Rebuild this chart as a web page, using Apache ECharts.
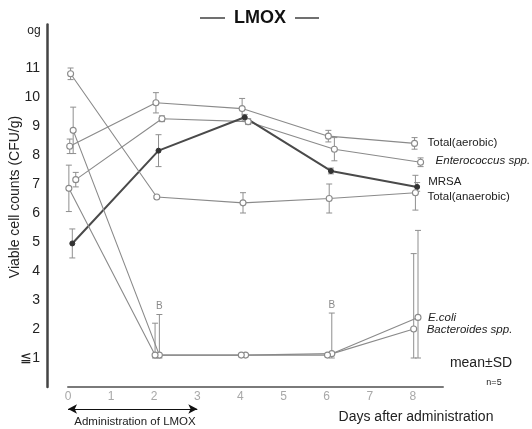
<!DOCTYPE html>
<html>
<head>
<meta charset="utf-8">
<script src="https://cdn.jsdelivr.net/npm/echarts@6/dist/echarts.min.js"></script>
<style>
  html, body { margin: 0; padding: 0; background: #fff; }
  #chart { width: 532px; height: 429px; }
</style>
</head>
<body>
<div id="chart"></div>
<script>
// Sampling days after the start of LMOX administration
const days = [0, 2, 4, 6, 8];

// Viable cell counts, log CFU/g (mean and SD, n=5)
const totalAerobic     = [8.3, 9.8, 9.6, 8.65, 8.4];
const totalAerobicSD   = [0.25, 0.35, 0.35, 0.2, 0.2];
const enterococcus     = [7.15, 9.25, 9.15, 8.2, 7.75];
const enterococcusSD   = [0.25, 0.1, 0.1, 0.4, 0.15];
const mrsa             = [4.95, 8.15, 9.3, 7.45, 6.9];
const mrsaSD           = [0.5, 0.55, 0.1, 0.1, 0.15];
const totalAnaerobic   = [10.8, 6.55, 6.35, 6.5, 6.7];
const totalAnaerobicSD = [0.2, 0.05, 0.35, 0.5, 0.6];
const eColi            = [8.85, 1.1, 1.1, 1.15, 2.4];
const eColiSD          = [0.8, 1.4, 0, 1.4, 3.0];
const bacteroides      = [6.85, 1.1, 1.1, 1.1, 2.0];
const bacteroidesSD    = [0.8, 1.1, 0, 0, 2.6];

// Marks printed above some E. coli error bars
const eColiNotes = ['', 'B', '', 'B', ''];

// Axis ticks
const xTicks = [0, 1, 2, 3, 4, 5, 6, 7, 8];
const yTicks = [1, 2, 3, 4, 5, 6, 7, 8, 9, 10, 11];
const yTickLabels = ['≦1', '2', '3', '4', '5', '6', '7', '8', '9', '10', '11'];

// Detection limit: error bars are not drawn below it
const detectionLimit = 1;

// Administration period (days)
const dosingPeriod = [0, 3];

const FONT = 'Liberation Sans, Arial, sans-serif';

const seriesSpec = [
  { name: 'Total(aerobic)',    mean: totalAerobic,   sd: totalAerobicSD,   dodge: 0.04, italic: false, labelOffset: [9, -1] },
  { name: 'Enterococcus spp.', mean: enterococcus,   sd: enterococcusSD,   dodge: 0.18, italic: true,  labelOffset: [11, -1] },
  { name: 'MRSA',              mean: mrsa,           sd: mrsaSD,           dodge: 0.1,  italic: false, labelOffset: [7, -5] },
  { name: 'Total(anaerobic)',  mean: totalAnaerobic, sd: totalAnaerobicSD, dodge: 0.06, italic: false, labelOffset: [8, 4] },
  { name: 'E.coli',            mean: eColi,          sd: eColiSD,          dodge: 0.12, italic: true,  labelOffset: [6, 0], notes: eColiNotes },
  { name: 'Bacteroides spp.',  mean: bacteroides,    sd: bacteroidesSD,    dodge: 0.02, italic: true,  labelOffset: [9, 1] }
];
seriesSpec[2].dark = true;

function errorBarRenderer(notes) {
  return function (params, api) {
    const x = api.value(0);
    const lo = api.value(1);
    const hi = api.value(2);
    if (hi - lo < 1e-9) return null;
    const top = api.coord([x, hi]);
    const bot = api.coord([x, lo]);
    const cap = 3;
    const style = { stroke: '#8f8f8f', lineWidth: 1 };
    const children = [
      { type: 'line', shape: { x1: top[0], y1: top[1], x2: bot[0], y2: bot[1] }, style },
      { type: 'line', shape: { x1: top[0] - cap, y1: top[1], x2: top[0] + cap, y2: top[1] }, style },
      { type: 'line', shape: { x1: bot[0] - cap, y1: bot[1], x2: bot[0] + cap, y2: bot[1] }, style }
    ];
    const note = notes && notes[params.dataIndex];
    if (note) {
      children.push({
        type: 'text', x: top[0], y: top[1] - 3,
        style: { text: note, textAlign: 'center', textVerticalAlign: 'bottom', font: '10px ' + FONT, fill: '#8a8a8a' }
      });
    }
    return { type: 'group', children };
  };
}

const series = [];
seriesSpec.forEach(function (s) {
  const pts = days.map((d, i) => [d + s.dodge, s.mean[i]]);
  const bars = days.map((d, i) => [
    d + s.dodge,
    Math.max(s.mean[i] - s.sd[i], detectionLimit),
    s.mean[i] + s.sd[i]
  ]);
  series.push({
    type: 'custom',
    name: s.name + ' SD',
    xAxisIndex: 0, yAxisIndex: 0,
    renderItem: errorBarRenderer(s.notes),
    encode: { x: 0, y: [1, 2] },
    data: bars,
    z: 1,
    silent: true
  });
  series.push({
    type: 'line',
    name: s.name,
    xAxisIndex: 0, yAxisIndex: 0,
    data: pts,
    clip: false,
    z: 3,
    symbol: 'circle',
    symbolSize: s.dark ? 5 : 6,
    lineStyle: { color: s.dark ? '#4a4a4a' : '#8a8a8a', width: s.dark ? 2 : 1.1 },
    itemStyle: s.dark
      ? { color: '#333', borderColor: '#333', borderWidth: 1 }
      : { color: '#fff', borderColor: '#8a8a8a', borderWidth: 1.1 },
    endLabel: {
      show: true,
      formatter: s.name,
      offset: s.labelOffset,
      distance: 4,
      color: '#222',
      fontFamily: FONT,
      fontSize: 11.5,
      fontStyle: s.italic ? 'italic' : 'normal'
    },
    animation: false
  });
});

// Double-headed arrow spanning the administration period
series.push({
  type: 'line',
  name: 'dosing',
  xAxisIndex: 1, yAxisIndex: 1,
  data: [],
  markLine: {
    silent: true,
    symbol: ['arrow', 'arrow'],
    symbolSize: [7, 9],
    label: { show: false },
    lineStyle: { color: '#111', width: 1.2, type: 'solid' },
    data: [[{ coord: [dosingPeriod[0], 0] }, { coord: [dosingPeriod[1], 0] }]]
  }
});

const chart = echarts.init(document.getElementById('chart'), null, { renderer: 'canvas' });
chart.setOption({
  animation: false,
  backgroundColor: '#fff',
  textStyle: { fontFamily: FONT },
  grid: [
    { left: 68, right: 89, top: 24.5, bottom: 42, containLabel: false },
    { left: 68, right: 89, top: 402, height: 14, containLabel: false }
  ],
  xAxis: [
    {
      type: 'value', gridIndex: 0, min: 0, max: 8.7, interval: 1,
      axisLine: { show: true, onZero: false, lineStyle: { color: '#7a7a7a', width: 2 } },
      axisTick: { show: false },
      splitLine: { show: false },
      axisLabel: {
        margin: 4, color: '#a8a8a8', fontSize: 12, fontFamily: FONT,
        showMaxLabel: false,
        formatter: v => (xTicks.indexOf(v) >= 0 ? String(v) : '')
      }
    },
    { type: 'value', gridIndex: 1, min: 0, max: 8.7, show: false }
  ],
  yAxis: [
    {
      type: 'value', gridIndex: 0, min: 0, max: 12.5, interval: 1, offset: 21,
      axisLine: { show: true, onZero: false, lineStyle: { color: '#444', width: 2.5 } },
      axisTick: { show: false },
      splitLine: { show: false },
      axisLabel: {
        margin: 7, color: '#222', fontSize: 14, fontFamily: 'Liberation Sans Narrow, ' + FONT,
        showMaxLabel: false,
        formatter: function (v) {
          const i = yTicks.indexOf(v);
          return i >= 0 ? yTickLabels[i] : '';
        }
      }
    },
    { type: 'value', gridIndex: 1, min: -1, max: 1, show: false }
  ],
  graphic: [
    { type: 'line', shape: { x1: 200, y1: 18, x2: 225, y2: 18 }, style: { stroke: '#222', lineWidth: 1.3 } },
    { type: 'line', shape: { x1: 295, y1: 18, x2: 319, y2: 18 }, style: { stroke: '#222', lineWidth: 1.3 } },
    { type: 'text', x: 260, y: 18, style: { text: 'LMOX', textAlign: 'center', textVerticalAlign: 'middle', font: 'bold 18px ' + FONT, fill: '#111' } },
    { type: 'text', x: 34, y: 31, style: { text: 'og', textAlign: 'center', textVerticalAlign: 'middle', font: '12px ' + FONT, fill: '#222' } },
    { type: 'text', x: 15, y: 197, rotation: Math.PI / 2, style: { text: 'Viable cell counts (CFU/g)', textAlign: 'center', textVerticalAlign: 'middle', font: '14px ' + FONT, fill: '#222' } },
    { type: 'text', x: 481, y: 363, style: { text: 'mean±SD', textAlign: 'center', textVerticalAlign: 'middle', font: '14px ' + FONT, fill: '#222' } },
    { type: 'text', x: 494, y: 383, style: { text: 'n=5', textAlign: 'center', textVerticalAlign: 'middle', font: '9px ' + FONT, fill: '#222' } },
    { type: 'text', x: 416, y: 417, style: { text: 'Days after administration', textAlign: 'center', textVerticalAlign: 'middle', font: '14px ' + FONT, fill: '#222' } },
    { type: 'text', x: 135, y: 422, style: { text: 'Administration of LMOX', textAlign: 'center', textVerticalAlign: 'middle', font: '11.5px ' + FONT, fill: '#222' } }
  ],
  series
});
</script>
</body>
</html>
